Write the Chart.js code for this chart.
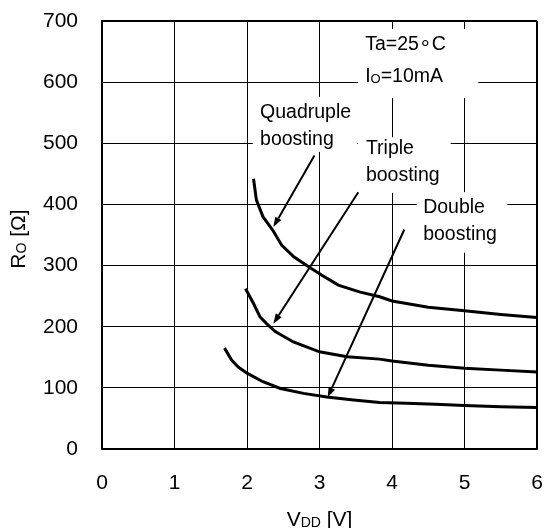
<!DOCTYPE html>
<html>
<head>
<meta charset="utf-8">
<script src="https://cdn.jsdelivr.net/npm/chart.js@4/dist/chart.umd.min.js"></script>
<style>
  html, body { margin: 0; padding: 0; background: #fff; }
  #wrap { width: 550px; height: 528px; }
</style>
</head>
<body>
<div id="wrap"><canvas id="chartRo"></canvas></div>
<script>
// values
const xTicks = [0, 1, 2, 3, 4, 5, 6];
const yTicks = [0, 100, 200, 300, 400, 500, 600, 700];

const quadX = [2.09, 2.13, 2.22, 2.36, 2.48, 2.65, 2.85, 3.05, 3.26, 3.55, 3.83, 4.0, 4.5, 5.0, 5.5, 6.0];
const quadY = [442, 407, 380, 357, 333, 314, 298, 283, 268, 257, 249, 242, 232, 226, 220, 215];

const tripleX = [1.98, 2.09, 2.18, 2.27, 2.39, 2.64, 3.0, 3.38, 3.83, 4.0, 4.5, 5.0, 5.5, 6.0];
const tripleY = [262, 238, 216, 205, 192, 175, 159, 151, 147, 144, 137, 132, 129, 126];

const doubleX = [1.69, 1.79, 1.88, 2.0, 2.22, 2.46, 2.78, 3.1, 3.47, 3.83, 4.2, 4.6, 5.0, 5.5, 6.0];
const doubleY = [165, 145, 134, 124, 110, 99, 91, 85, 80, 76, 75, 73, 71, 69, 68];

// annotation text ("_X" = subscript)
const noteText = [
    ['Ta=25\u2218C', 'I_O=10mA'],
    ['Quadruple', 'boosting'],
    ['Triple', 'boosting'],
    ['Double', 'boosting']
];
const xTitle = 'V_DD [V]';
const yTitle = 'R_O [\u03A9]';

// arrows: tail -> head, in data units
const arrowFrom = [[2.93, 480], [3.535, 420], [4.17, 359]];
const arrowTo = [[2.363, 363], [2.363, 205], [3.113, 84.6]];

// where the notes sit (data units): text left, baselines, white box [x0, x1, yTop, yBottom]
const notePos = [
    { x: 3.63, base: [652, 600.3], box: [3.53, 5.19, 687, 574] },
    { x: 2.18, base: [540.7, 497], box: [2.08, 3.52, 576, 486] },
    { x: 3.64, base: [482.5, 438.8], box: [3.53, 4.81, 510, 419] },
    { x: 4.43, base: [385.5, 341.8], box: [4.34, 5.59, 420, 321] }
];

const FONT = '"Liberation Sans", Arial, sans-serif';
const BLACK = '#000';

const pairs = (xs, ys) => xs.map((x, i) => ({ x, y: ys[i] }));

function drawRich(ctx, str, x, y, size, align) {
    const parts = str.split(/(_[A-Z]+)/).filter(Boolean);
    const subSize = Math.round(size * 0.68);
    const segs = parts.map(p => p[0] === '_'
        ? { t: p.slice(1), f: `${subSize}px ${FONT}`, dy: 1 }
        : { t: p, f: `${size}px ${FONT}`, dy: 0 });
    let w = 0;
    segs.forEach(s => { ctx.font = s.f; s.w = ctx.measureText(s.t).width; w += s.w; });
    let cx = align === 'center' ? x - w / 2 : x;
    ctx.textAlign = 'left';
    ctx.textBaseline = 'alphabetic';
    segs.forEach(s => { ctx.font = s.f; ctx.fillText(s.t, cx, y + s.dy); cx += s.w; });
}

const notesPlugin = {
    id: 'notes',
    beforeDatasetsDraw(chart) {
        const { ctx, scales: { x, y } } = chart;
        ctx.save();
        notePos.forEach((p, i) => {
            const [x0, x1, yt, yb] = p.box;
            ctx.fillStyle = '#fff';
            const px0 = x.getPixelForValue(x0), px1 = x.getPixelForValue(x1);
            const py0 = y.getPixelForValue(yt), py1 = y.getPixelForValue(yb);
            ctx.fillRect(px0, py0, px1 - px0, py1 - py0);
            ctx.fillStyle = BLACK;
            noteText[i].forEach((line, j) => {
                drawRich(ctx, line, x.getPixelForValue(p.x), y.getPixelForValue(p.base[j]), 19.5, 'left');
            });
        });
        ctx.restore();
    },
    afterDatasetsDraw(chart) {
        const { ctx, scales: { x, y } } = chart;
        ctx.save();
        ctx.strokeStyle = BLACK;
        ctx.fillStyle = BLACK;
        ctx.lineWidth = 2;
        arrowFrom.forEach((f, i) => {
            const x0 = x.getPixelForValue(f[0]), y0 = y.getPixelForValue(f[1]);
            const x1 = x.getPixelForValue(arrowTo[i][0]), y1 = y.getPixelForValue(arrowTo[i][1]);
            const a = Math.atan2(y1 - y0, x1 - x0);
            const len = 10, half = 3.5;
            const bx = x1 - len * Math.cos(a), by = y1 - len * Math.sin(a);
            ctx.beginPath();
            ctx.moveTo(x0, y0);
            ctx.lineTo(bx, by);
            ctx.stroke();
            ctx.beginPath();
            ctx.moveTo(x1, y1);
            ctx.lineTo(bx + half * Math.sin(a), by - half * Math.cos(a));
            ctx.lineTo(bx - half * Math.sin(a), by + half * Math.cos(a));
            ctx.closePath();
            ctx.fill();
        });
        ctx.restore();
    },
    afterDraw(chart) {
        const { ctx, chartArea } = chart;
        ctx.save();
        ctx.fillStyle = BLACK;
        drawRich(ctx, xTitle, (chartArea.left + chartArea.right) / 2, 526, 21, 'center');
        ctx.translate(25, (chartArea.top + chartArea.bottom) / 2 + 4);
        ctx.rotate(-Math.PI / 2);
        drawRich(ctx, yTitle, 0, 0, 21, 'center');
        ctx.restore();
    }
};

// stop label overhang from growing the plot margins
function noOverhang(s) {
    s.paddingTop = 0;
    s.paddingBottom = 0;
    s.paddingLeft = 0;
    s.paddingRight = 0;
}

const curve = (data) => ({
    data,
    showLine: true,
    borderColor: BLACK,
    borderWidth: 3,
    pointRadius: 0,
    tension: 0,
    fill: false
});

new Chart(document.getElementById('chartRo'), {
    type: 'scatter',
    data: {
        datasets: [
            curve(pairs(quadX, quadY)),
            curve(pairs(tripleX, tripleY)),
            curve(pairs(doubleX, doubleY))
        ]
    },
    options: {
        responsive: true,
        maintainAspectRatio: false,
        animation: false,
        layout: { padding: { top: 21, right: 13, left: 0, bottom: 0 } },
        plugins: { legend: { display: false }, tooltip: { enabled: false } },
        scales: {
            x: {
                type: 'linear',
                min: 0, max: 6,
                afterBuildTicks: s => { s.ticks = xTicks.map(v => ({ value: v })); },
                afterFit: s => { s.height = 79; noOverhang(s); },
                ticks: { color: BLACK, font: { family: FONT, size: 21 }, padding: 22, maxRotation: 0 },
                grid: { color: BLACK, lineWidth: c => (c.tick && c.tick.value === 6 ? 2 : 1), drawTicks: false },
                border: { color: BLACK, width: 2 }
            },
            y: {
                min: 0, max: 700,
                afterBuildTicks: s => { s.ticks = yTicks.map(v => ({ value: v })); },
                afterFit: s => { s.width = 102; noOverhang(s); },
                ticks: { color: BLACK, font: { family: FONT, size: 21 }, padding: 24 },
                grid: { color: BLACK, lineWidth: c => (c.tick && c.tick.value === 700 ? 2 : 1), drawTicks: false },
                border: { color: BLACK, width: 2 }
            }
        }
    },
    plugins: [notesPlugin]
});
</script>
</body>
</html>
